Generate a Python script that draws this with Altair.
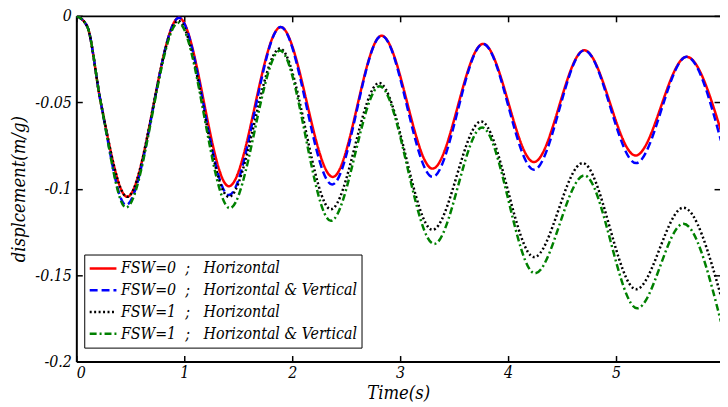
import altair as alt
import pandas as pd

# ---- data ----
series_labels = [
    "FSW=0\u00a0\u00a0;\u00a0\u00a0\u00a0Horizontal",
    "FSW=0\u00a0\u00a0;\u00a0\u00a0\u00a0Horizontal & Vertical",
    "FSW=1\u00a0\u00a0;\u00a0\u00a0\u00a0Horizontal",
    "FSW=1\u00a0\u00a0;\u00a0\u00a0\u00a0Horizontal & Vertical",
]
series_colors = ["#ff0000", "#0000ff", "#000000", "#008000"]
series_dashes = [[1, 0], [8, 4], [2, 2.5], [7, 3, 2, 3]]

t_fsw0_h = [0, 0.1, 0.226, 0.471, 0.951, 1.413, 1.893, 2.376, 2.828, 3.300, 3.768, 4.239, 4.706, 5.181, 5.654, 5.972]
y_fsw0_h = [0, -0.006, -0.05, -0.1047, -0.0011, -0.0986, -0.0065, -0.0932, -0.0115, -0.0884, -0.0162, -0.0846, -0.0199, -0.0808, -0.0237, -0.0665]

t_fsw0_hv = [0, 0.1, 0.226, 0.46, 0.951, 1.413, 1.893, 2.37, 2.828, 3.300, 3.768, 4.240, 4.706, 5.185, 5.654, 5.972]
y_fsw0_hv = [0, -0.006, -0.05, -0.1095, -0.0011, -0.1037, -0.0065, -0.0976, -0.0115, -0.0932, -0.0162, -0.0890, -0.0199, -0.0852, -0.0237, -0.0722]

t_fsw1_h = [0, 0.1, 0.226, 0.471, 0.945, 1.413, 1.887, 2.358, 2.805, 3.300, 3.750, 4.241, 4.691, 5.186, 5.624, 5.972]
y_fsw1_h = [0, -0.006, -0.05, -0.1047, -0.0029, -0.1047, -0.0189, -0.1119, -0.0388, -0.1238, -0.0611, -0.1396, -0.0852, -0.1582, -0.1110, -0.1622]

t_fsw1_hv = [0, 0.1, 0.226, 0.46, 0.945, 1.422, 1.887, 2.358, 2.810, 3.315, 3.759, 4.248, 4.706, 5.195, 5.624, 5.972]
y_fsw1_hv = [0, -0.006, -0.05, -0.1109, -0.0040, -0.1113, -0.0201, -0.1186, -0.0407, -0.1320, -0.0646, -0.1490, -0.0923, -0.1692, -0.1203, -0.1770]

x_ticks = [0, 1, 2, 3, 4, 5]
y_ticks = [0, -0.05, -0.1, -0.15, -0.2]
x_domain = [0, 5.963]
y_domain = [-0.2, 0]

rows = []
for lab, ts, ys in zip(series_labels,
                       [t_fsw0_h, t_fsw0_hv, t_fsw1_h, t_fsw1_hv],
                       [y_fsw0_h, y_fsw0_hv, y_fsw1_h, y_fsw1_hv]):
    for t, y in zip(ts, ys):
        rows.append({"series": lab, "t": t, "y": y})
df = pd.DataFrame(rows)

W, H = 650, 349
SERIF = "DejaVu Serif Condensed"

xs = alt.Scale(domain=x_domain, nice=False, zero=False)
ys = alt.Scale(domain=y_domain, nice=False, zero=False)

base = alt.Chart(df)

legend = alt.Legend(
    title=None, orient="none", legendX=8, legendY=241,
    symbolType="stroke", symbolSize=729, symbolStrokeWidth=2.5,
    clipHeight=20, rowPadding=2, padding=4,
    labelFont=SERIF, labelFontStyle="italic", labelFontSize=16, labelColor="black",
    labelOffset=3, labelLimit=400,
    strokeColor="black", fillColor="white", cornerRadius=0,
)

lines = base.mark_line(interpolate="monotone", strokeWidth=2.5, clip=True).encode(
    x=alt.X("t:Q", scale=xs, axis=alt.Axis(
        orient="bottom", values=x_ticks, ticks=False, domain=True, format="d",
        title="Time(s)", labelPadding=3, titlePadding=3)),
    y=alt.Y("y:Q", scale=ys, axis=alt.Axis(
        orient="left", values=y_ticks, ticks=False, domain=True,
        labelExpr="datum.value == 0 ? '0' : '-' + format(-datum.value, '.2~f')",
        title="displcement(m/g)", labelPadding=5, titlePadding=6)),
    color=alt.Color("series:N", scale=alt.Scale(domain=series_labels, range=series_colors), legend=legend),
    strokeDash=alt.StrokeDash("series:N", scale=alt.Scale(domain=series_labels, range=series_dashes), legend=legend),
)

ticks_a = base.mark_line(opacity=0).encode(
    x=alt.X("t:Q", scale=xs, axis=alt.Axis(
        orient="bottom", offset=-H, values=x_ticks, labels=False, title=None,
        domain=True, ticks=True, tickSize=6)),
    y=alt.Y("y:Q", scale=ys, axis=alt.Axis(
        orient="right", offset=-W, values=y_ticks, labels=False, title=None,
        domain=False, ticks=True, tickSize=6)),
)

ticks_b = base.mark_line(opacity=0).encode(
    x=alt.X("t:Q", scale=xs, axis=alt.Axis(
        orient="top", offset=-H, values=x_ticks, labels=False, title=None,
        domain=False, ticks=True, tickSize=6)),
    y=alt.Y("y:Q", scale=ys, axis=alt.Axis(
        orient="left", offset=-W, values=y_ticks, labels=False, title=None,
        domain=False, ticks=True, tickSize=6)),
)

chart = alt.layer(lines, ticks_a, ticks_b).resolve_axis(
    x="independent", y="independent"
).properties(
    width=W, height=H,
    autosize=alt.AutoSizeParams(type="none"),
    padding={"left": 69, "top": 6, "right": 0, "bottom": 43},
).configure_view(stroke=None).configure_axis(
    grid=False,
    domainColor="black", domainWidth=2,
    tickColor="black", tickWidth=1.5,
    labelFont=SERIF, labelFontStyle="italic", labelFontSize=16, labelColor="black",
    titleFont=SERIF, titleFontStyle="italic", titleFontWeight="normal", titleFontSize=18.5, titleColor="black",
)

chart.save("out.html", embed_options={"renderer": "svg", "actions": False})
